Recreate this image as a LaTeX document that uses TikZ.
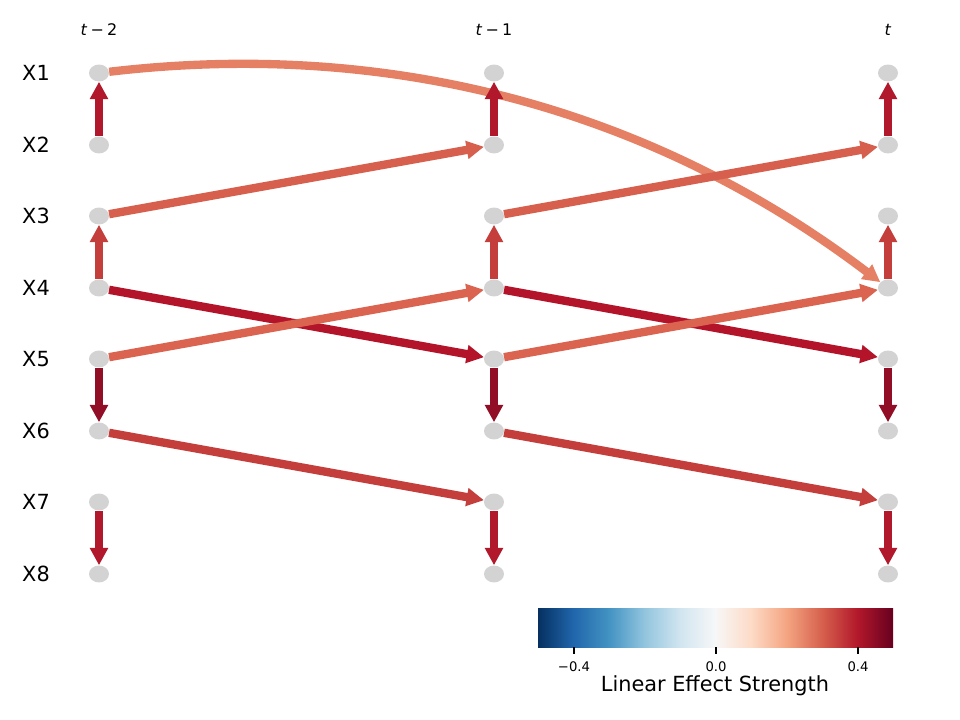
\documentclass[tikz,border=0pt]{standalone}
\usepackage{fontspec}
\setmainfont{DejaVu Sans}
\usetikzlibrary{arrows.meta,shapes.geometric}
\definecolor{nodegray}{RGB}{211,211,211}
\definecolor{cvA}{RGB}{178,24,43}
\definecolor{cvB}{RGB}{196,62,60}
\definecolor{cvC}{RGB}{145,14,38}
\definecolor{clA}{RGB}{214,96,77}
\definecolor{clB}{RGB}{180,20,42}
\definecolor{clC}{RGB}{218,100,80}
\definecolor{ccurve}{RGB}{229,128,100}
\definecolor{cb0}{HTML}{053061}
\definecolor{cb1}{HTML}{2166AC}
\definecolor{cb2}{HTML}{4393C3}
\definecolor{cb3}{HTML}{92C5DE}
\definecolor{cb4}{HTML}{D1E5F0}
\definecolor{cb5}{HTML}{F7F7F7}
\definecolor{cb6}{HTML}{FDDBC7}
\definecolor{cb7}{HTML}{F4A582}
\definecolor{cb8}{HTML}{D6604D}
\definecolor{cb9}{HTML}{B2182B}
\definecolor{cb10}{HTML}{67001F}
\pgfdeclarehorizontalshading{rdbu}{100bp}{color(0bp)=(cb0); color(25bp)=(cb0); color(30bp)=(cb1); color(35bp)=(cb2); color(40bp)=(cb3); color(45bp)=(cb4); color(50bp)=(cb5); color(55bp)=(cb6); color(60bp)=(cb7); color(65bp)=(cb8); color(70bp)=(cb9); color(75bp)=(cb10); color(100bp)=(cb10)}
\begin{document}
\begin{tikzpicture}[x=0.72pt,y=-0.72pt,
  vnode/.style={ellipse, fill=nodegray, minimum width=14.4pt, minimum height=12.2pt, inner sep=0pt},
  edge/.style={line width=6pt, -{Triangle[length=12.5pt,width=12.5pt]}},
  rowlab/.style={font=\fontsize{15}{18}\selectfont},
  collab/.style={font=\fontsize{11.5}{14}\selectfont},
  ticklab/.style={font=\fontsize{9.5}{11}\selectfont},
  barlab/.style={font=\fontsize{15}{18}\selectfont}]
\useasboundingbox (0,0) rectangle (960,720);
% nodes
\foreach \r/\y in {1/73,2/145,3/216,4/288,5/359,6/431,7/502,8/574}{
  \node[rowlab] (lab\r) at (36,\y) {X\r};
  \foreach \c/\x in {a/99,b/494,c/888}{
    \node[vnode] (n\r\c) at (\x,\y) {};
  }
}
\node[collab] (ha) at (99,30) {\textit{t}\hspace{0.2em}−\hspace{0.2em}2};
\node[collab] (hb) at (494,30) {\textit{t}\hspace{0.2em}−\hspace{0.2em}1};
\node[collab] (hc) at (888,30) {\textit{t}};
% curved edge
\draw[edge, ccurve] (n1a) .. controls (391.6,38.5) and (653.9,110.2) .. (n4c);
% lagged edges
\foreach \s/\t in {a/b,b/c}{
  \draw[edge, clA] (n3\s) -- (n2\t);
  \draw[edge, clB] (n4\s) -- (n5\t);
  \draw[edge, clC] (n5\s) -- (n4\t);
  \draw[edge, cvB] (n6\s) -- (n7\t);
}
% contemporaneous edges
\foreach \c in {a,b,c}{
  \draw[edge, cvA] (n2\c) -- (n1\c);
  \draw[edge, cvB] (n4\c) -- (n3\c);
  \draw[edge, cvC] (n5\c) -- (n6\c);
  \draw[edge, cvA] (n7\c) -- (n8\c);
}
% colorbar
\shade[shading=rdbu] (538,608) rectangle (893,647);
\foreach \x/\t in {574/−0.4,716/0.0,858/0.4}{
  \draw[line width=0.8pt] (\x,647) -- (\x,654);
  \node[ticklab] at (\x,667) {\t};
}
\node[barlab] (cbl) at (715,686) {Linear Effect Strength};
\end{tikzpicture}
\end{document}
